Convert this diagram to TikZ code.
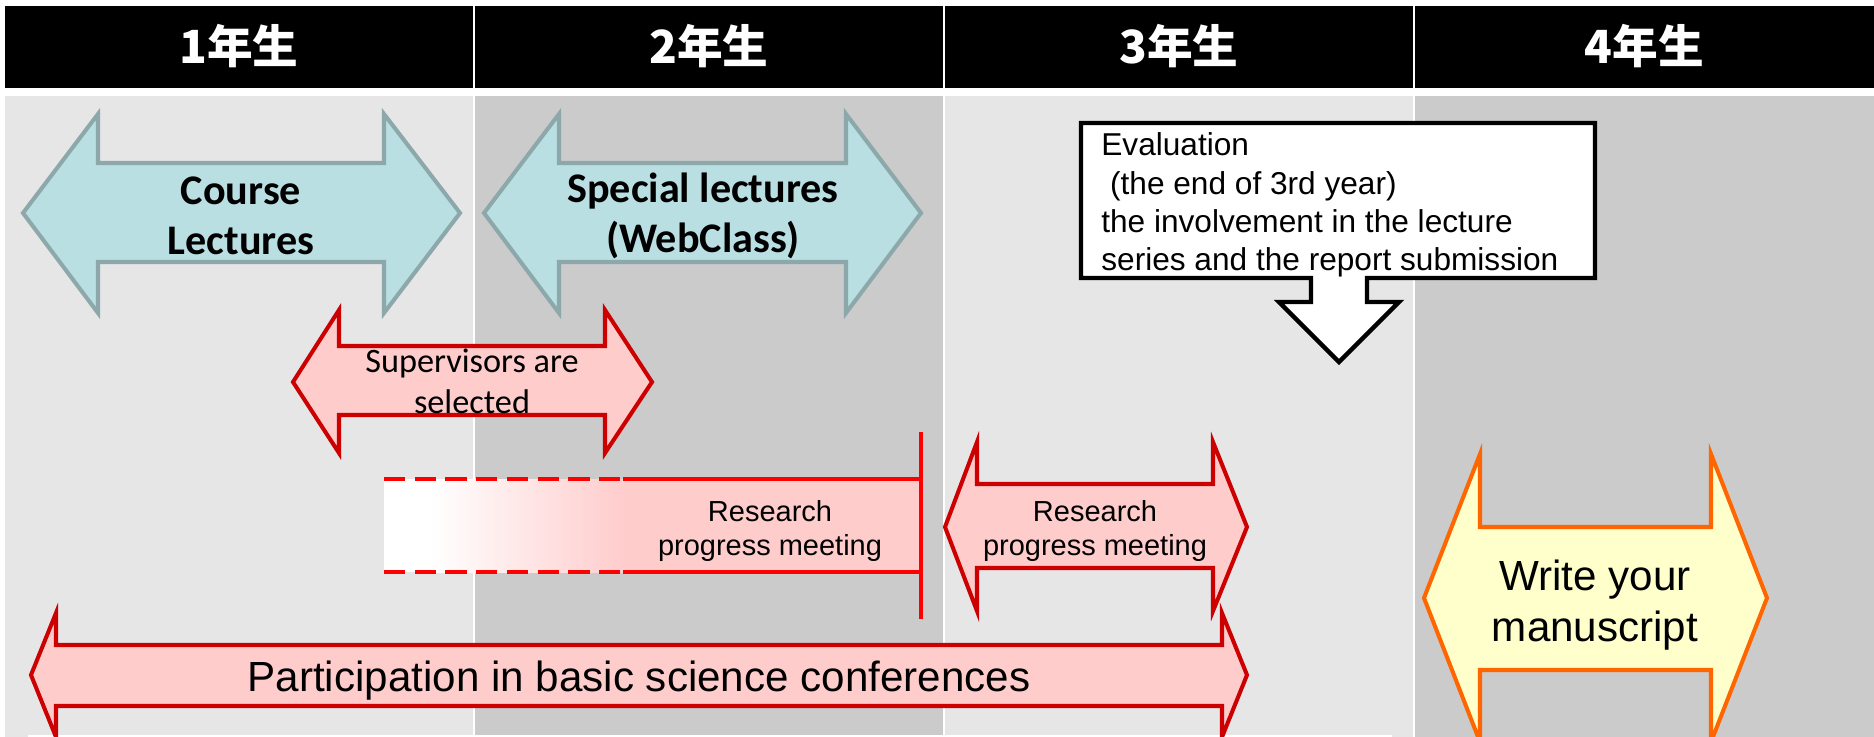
\documentclass[tikz,border=0pt]{standalone}
\usepackage{fontspec}
\setmainfont{Liberation Sans}
\newfontfamily\calibri{Carlito}
\newfontfamily\cjk{Noto Sans CJK JP}
\definecolor{lightcol}{HTML}{E6E6E6}
\definecolor{darkcol}{HTML}{CBCBCB}
\definecolor{lecfill}{HTML}{B9DFE3}
\definecolor{lecline}{HTML}{8CA8AA}
\definecolor{pinkfill}{HTML}{FFCCCC}
\definecolor{redline}{HTML}{CC0000}
\definecolor{brightred}{HTML}{FF0000}
\definecolor{orangeline}{HTML}{FF6600}
\definecolor{yellowfill}{HTML}{FFFFCC}

\begin{document}
\begin{tikzpicture}[x=0.02cm, y=-0.02cm,
        yeartext/.style={text=white, inner sep=0pt, font=\cjk\bfseries\fontsize{26}{30}\selectfont},
        lecarrow/.style={draw=lecline, fill=lecfill, line width=2.3pt},
        redarrow/.style={draw=redline, fill=pinkfill, line width=2.3pt},
        writearrow/.style={draw=orangeline, fill=yellowfill, line width=2.3pt},
        callout/.style={draw=black, fill=white, line width=2.5pt},
        redbar/.style={draw=brightred, line width=2.8pt},
        lectext/.style={inner sep=0pt, align=center, font=\calibri\bfseries\fontsize{24}{28.5}\selectfont},
        suptext/.style={inner sep=0pt, align=center, font=\calibri\fontsize{19.5}{23.5}\selectfont},
        restext/.style={inner sep=0pt, align=center, font=\fontsize{16.5}{18.8}\selectfont},
        evaltext/.style={inner sep=0pt, align=left, font=\fontsize{18}{21.8}\selectfont},
        bigtext/.style={inner sep=0pt, align=center, font=\fontsize{24}{28.8}\selectfont}]
      \useasboundingbox (0,0) rectangle (1874,737);

      % Years
      \foreach \i/\xa/\xb/\col in {1/5/473/lightcol, 2/475/943/darkcol, 3/945/1413/lightcol, 4/1415/1874/darkcol} {
        \fill[black] (\xa,6) rectangle (\xb,88);
        \fill[\col] (\xa,96) rectangle (\xb,737);
        \node[yeartext] (year\i) at ({(\xa+\xb)/2},46) {\i{}年生};
      }
      \fill[white] (28,735) rectangle (1392,737);

      % Lectures
      \draw[lecarrow] (23,213) -- (98,114) -- (98,163) -- (384,163) -- (384,114) -- (460,213)
        -- (384,313) -- (384,262) -- (98,262) -- (98,313) -- cycle;
      \node[lectext] (course) at (241,216) {Course\\Lectures};
      \draw[lecarrow] (484,213) -- (559,114) -- (559,163) -- (846,163) -- (846,114) -- (921,213)
        -- (846,313) -- (846,262) -- (559,262) -- (559,313) -- cycle;
      \node[lectext] (special) at (703,216) {Special lectures\\(WebClass)};

      % Supervisors
      \draw[redarrow] (293,382) -- (339,310) -- (339,346) -- (605,346) -- (605,310) -- (652,382)
        -- (605,453) -- (605,415) -- (339,415) -- (339,453) -- cycle;
      \node[suptext] (superv) at (472,381) {Supervisors are\\selected};

      % Research progress meetings
      \fill[white] (384,479) rectangle (430,572);
      \shade[left color=white, right color=pinkfill] (430,479) rectangle (625,572);
      \fill[pinkfill] (625,479) rectangle (921,572);
      \draw[redbar, dash pattern=on 12pt off 5.5pt] (384,479) -- (623,479);
      \draw[redbar, dash pattern=on 12pt off 5.5pt] (384,572) -- (623,572);
      \draw[redbar] (623,479) -- (921,479);
      \draw[redbar] (623,572) -- (921,572);
      \draw[brightred, line width=2pt] (921,432) -- (921,619);
      \node[restext] (resleft) at (770,531) {Research\\progress meeting};

      \draw[redarrow] (945,527) -- (977,442) -- (977,484) -- (1213,484) -- (1213,442) -- (1247,527)
        -- (1213,611) -- (1213,568) -- (977,568) -- (977,611) -- cycle;
      \node[restext] (resright) at (1095,531) {Research\\progress meeting};

      % Conferences
      \draw[redarrow] (31,675) -- (56,613) -- (56,645) -- (1222,645) -- (1222,613) -- (1247,675)
        -- (1222,737) -- (1222,706) -- (56,706) -- (56,737) -- cycle;
      \node[bigtext] (confer) at (639,681) {Participation in basic science conferences};

      % Manuscript
      \draw[writearrow] (1424,598) -- (1480,454) -- (1480,527) -- (1711,527) -- (1711,454) -- (1767,598)
        -- (1711,742) -- (1711,670) -- (1480,670) -- (1480,742) -- cycle;
      \node[bigtext] (write) at (1595,605) {Write your\\manuscript};

      % Evaluation
      \draw[callout] (1081,123) -- (1595,123) -- (1595,278) -- (1367,278) -- (1367,302) -- (1399,302)
        -- (1339,362) -- (1279,302) -- (1311,302) -- (1311,278) -- (1081,278) -- cycle;
      \node[evaltext, anchor=west] (eval) at (1101,205) {Evaluation\\~(the end of 3rd year)\\the involvement in the lecture\\series and the report submission};
    \end{tikzpicture}
\end{document}
